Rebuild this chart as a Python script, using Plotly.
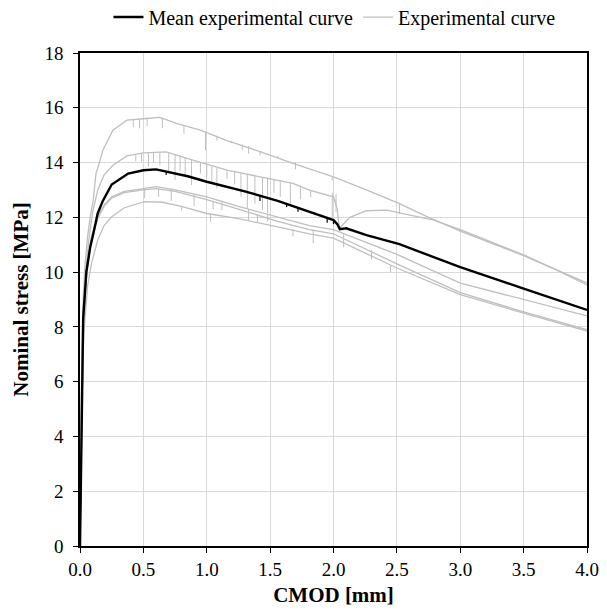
import plotly.graph_objects as go

# ---- data (CMOD in mm, nominal stress in MPa) ----
# experimental curve 1 (highest)
c1_x = [0, 0.012, 0.025, 0.04, 0.06, 0.08, 0.105, 0.126, 0.145, 0.18, 0.26, 0.37, 0.50, 0.63, 0.76, 0.95,
        1.16, 1.42, 1.68, 1.81, 2.0, 2.26, 2.52, 2.75, 3.0, 3.25, 3.5, 3.75, 4.0]
c1_y = [0, 6.0, 9.0, 10.3, 11.3, 12.0, 12.65, 13.6, 13.87, 14.45, 15.18, 15.55, 15.6, 15.65, 15.43, 15.18,
        14.8, 14.4, 13.97, 13.78, 13.48, 13.0, 12.5, 12.0, 11.5, 11.05, 10.6, 10.1, 9.6]
c1_dip_x = [0.42, 0.47, 0.53, 0.65, 0.82, 0.99, 1.08, 1.19, 1.28, 1.33, 1.42, 1.56, 1.7, 1.99, 2.52]
c1_dip_top = [15.55, 15.6, 15.62, 15.64, 15.35, 15.12, 14.98, 14.8, 14.66, 14.6, 14.4, 14.25, 14.0, 13.5, 12.5]
c1_dip_bot = [15.3, 15.25, 15.33, 15.25, 15.05, 14.45, 14.8, 14.71, 14.45, 14.33, 14.27, 14.15, 13.75, 13.35, 12.13]

# experimental curve 2
c2_x = [0, 0.012, 0.025, 0.045, 0.07, 0.10, 0.14, 0.19, 0.26, 0.37, 0.50, 0.68, 0.89, 1.16, 1.42, 1.68,
        1.81, 2.0, 2.03, 2.046, 2.13, 2.26, 2.42, 2.66, 2.79, 3.0, 3.25, 3.5, 3.75, 4.0]
c2_y = [0, 5.5, 8.5, 10.0, 11.2, 12.2, 13.0, 13.55, 13.9, 14.24, 14.35, 14.39, 14.09, 13.72, 13.48, 13.24,
        12.99, 12.75, 12.3, 11.6, 12.0, 12.24, 12.26, 12.04, 11.9, 11.55, 11.1, 10.63, 10.1, 9.53]
c2_dip_x = [0.44, 0.486, 0.54, 0.58, 0.63, 0.70, 0.75, 0.79, 0.83, 0.88, 0.95, 1.0, 1.04, 1.08, 1.16, 1.22,
            1.27, 1.32, 1.38, 1.44, 1.48, 1.53, 1.58, 1.66, 1.74, 1.82, 1.99, 2.02]
c2_dip_top = [14.3, 14.33, 14.36, 14.37, 14.38, 14.35, 14.3, 14.25, 14.2, 14.12, 14.0, 13.92, 13.85, 13.8,
              13.72, 13.66, 13.6, 13.55, 13.52, 13.47, 13.45, 13.4, 13.35, 13.27, 13.15, 13.0, 12.9, 12.85]
c2_dip_bot = [14.05, 14.03, 13.85, 14.0, 13.9, 13.6, 13.36, 13.7, 13.54, 13.18, 13.6, 13.45, 13.3, 13.05,
              13.4, 13.2, 12.75, 12.32, 12.5, 12.26, 12.14, 12.9, 12.75, 12.5, 12.66, 12.74, 12.01, 12.19]

# experimental curve 3
c3_x = [0, 0.012, 0.025, 0.05, 0.09, 0.14, 0.19, 0.25, 0.35, 0.50, 0.60, 0.75, 1.0, 1.25, 1.56, 1.81,
        2.0, 2.5, 3.0, 3.5, 4.0]
c3_y = [0, 5.0, 8.0, 10.0, 11.3, 12.02, 12.45, 12.75, 12.95, 13.05, 13.12, 13.0, 12.75, 12.4, 12.0, 11.7,
        11.55, 10.65, 9.6, 9.0, 8.4]
c3_dip_x = [0.51, 0.72, 0.90, 1.12, 1.33, 1.48, 2.08]
c3_dip_top = [13.05, 13.05, 12.85, 12.6, 12.3, 12.1, 11.4]
c3_dip_bot = [12.7, 12.6, 12.4, 12.25, 11.9, 11.85, 10.9]

# experimental curve 4
c4_x = [0, 0.012, 0.025, 0.05, 0.09, 0.14, 0.19, 0.25, 0.35, 0.50, 0.60, 0.75, 1.0, 1.25, 1.56, 1.81,
        2.0, 2.5, 3.0, 3.5, 4.0]
c4_y = [0, 4.8, 7.8, 9.8, 11.2, 11.95, 12.4, 12.7, 12.9, 13.0, 13.05, 12.95, 12.65, 12.3, 11.85, 11.55,
        11.4, 10.3, 9.25, 8.55, 7.9]
c4_dip_x = [0.62, 1.05, 1.40, 1.84, 2.30]
c4_dip_top = [13.05, 12.6, 12.1, 11.55, 10.8]
c4_dip_bot = [12.75, 12.3, 11.8, 11.05, 10.45]

# experimental curve 5 (lowest)
c5_x = [0, 0.012, 0.03, 0.06, 0.09, 0.14, 0.19, 0.25, 0.35, 0.51, 0.65, 0.8, 1.0, 1.25, 1.56, 1.81,
        2.0, 2.5, 3.0, 3.5, 4.0]
c5_y = [0, 4.5, 7.8, 9.5, 10.3, 11.17, 11.7, 12.02, 12.35, 12.57, 12.55, 12.4, 12.14, 11.95, 11.65, 11.4,
        11.24, 10.15, 9.18, 8.5, 7.85]
c5_dip_x = [0.80, 1.03, 1.68, 2.45]
c5_dip_top = [12.4, 12.14, 11.55, 10.25]
c5_dip_bot = [12.25, 11.84, 11.3, 10.0]

# mean experimental curve
mean_x = [0, 0.012, 0.025, 0.05, 0.08, 0.105, 0.14, 0.18, 0.25, 0.38, 0.5, 0.6, 0.72, 0.85, 1.0, 1.3,
          1.56, 1.81, 2.0, 2.03, 2.05, 2.1, 2.26, 2.52, 3.0, 3.5, 4.0]
mean_y = [0, 5.2, 8.3, 10.0, 10.9, 11.4, 12.15, 12.6, 13.2, 13.6, 13.72, 13.75, 13.62, 13.5, 13.3, 12.95,
          12.6, 12.2, 11.9, 11.75, 11.57, 11.6, 11.35, 11.02, 10.18, 9.4, 8.62]
mean_dip_x = [0.68, 1.42, 1.63, 1.72, 1.95, 2.0]
mean_dip_top = [13.68, 12.78, 12.5, 12.35, 12.0, 11.9]
mean_dip_bot = [13.55, 12.6, 12.38, 12.2, 11.8, 11.75]

GRAY = "#BFBFBF"
FONT = "Liberation Serif"


def spikes(xs, tops, bots):
    sx, sy = [], []
    for x, t, b in zip(xs, tops, bots):
        sx += [x, x, None]
        sy += [t, b, None]
    return sx, sy


fig = go.Figure()

curves = [
    (c1_x, c1_y, c1_dip_x, c1_dip_top, c1_dip_bot),
    (c2_x, c2_y, c2_dip_x, c2_dip_top, c2_dip_bot),
    (c3_x, c3_y, c3_dip_x, c3_dip_top, c3_dip_bot),
    (c4_x, c4_y, c4_dip_x, c4_dip_top, c4_dip_bot),
    (c5_x, c5_y, c5_dip_x, c5_dip_top, c5_dip_bot),
]
for i, (cx, cy, dx, dt, db) in enumerate(curves):
    fig.add_trace(go.Scatter(
        x=cx, y=cy, mode="lines", name="Experimental curve",
        line=dict(color=GRAY, width=1.3), legendgroup="exp",
        showlegend=(i == 0), legendrank=2,
    ))
    sx, sy = spikes(dx, dt, db)
    fig.add_trace(go.Scatter(
        x=sx, y=sy, mode="lines", line=dict(color=GRAY, width=1),
        legendgroup="exp", showlegend=False, hoverinfo="skip",
    ))

sx, sy = spikes(mean_dip_x, mean_dip_top, mean_dip_bot)
fig.add_trace(go.Scatter(x=sx, y=sy, mode="lines", line=dict(color="black", width=1.2),
                         legendgroup="mean", showlegend=False, hoverinfo="skip"))
fig.add_trace(go.Scatter(
    x=mean_x, y=mean_y, mode="lines", name="Mean experimental curve",
    line=dict(color="black", width=2.4), legendgroup="mean", legendrank=1,
))

axis_common = dict(
    showline=True, linecolor="black", linewidth=1.6, mirror=True,
    showgrid=True, gridcolor="#D9D9D9", gridwidth=1,
    ticks="outside", ticklen=5, tickcolor="black", tickwidth=1.3,
    tickfont=dict(family=FONT, size=19, color="black"),
    zeroline=False, automargin=False,
)

# the page body adds an 8 px offset, so the figure is 8 px smaller than the window
fig.update_layout(
    width=599, height=603,
    margin=dict(l=72, r=20, t=45, b=65),
    paper_bgcolor="white", plot_bgcolor="white",
    font=dict(family=FONT, color="black"),
    xaxis=dict(range=[0, 4], dtick=0.5, tickformat=".1f",
               title=dict(text="<b>CMOD [mm]</b>", font=dict(family=FONT, size=21), standoff=9),
               **axis_common),
    yaxis=dict(range=[0, 18], dtick=2, ticklabelstandoff=6,
               title=dict(text="<b>Nominal stress [MPa]</b>", font=dict(family=FONT, size=21), standoff=10),
               **axis_common),
    legend=dict(orientation="h", x=0.545, xanchor="center", xref="container",
                y=0.985, yanchor="middle", yref="container",
                font=dict(family=FONT, size=20), bgcolor="rgba(0,0,0,0)"),
    showlegend=True,
)

fig.write_html("out.html")
